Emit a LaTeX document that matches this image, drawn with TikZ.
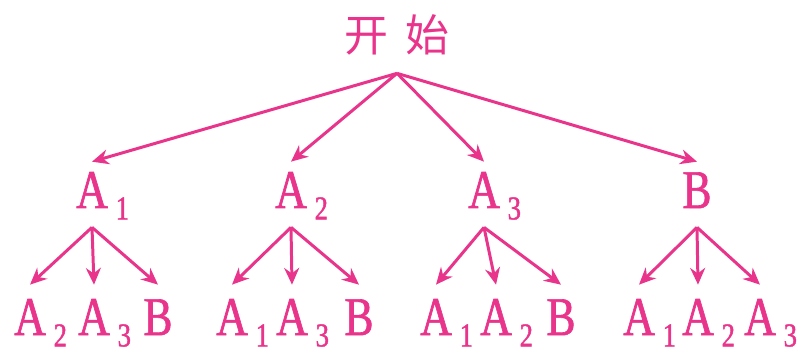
\documentclass[tikz,border=0pt]{standalone}
\usepackage{fontspec}
\setmainfont[FakeStretch=0.8, FakeBold=1.2]{Liberation Serif}
\newfontfamily\cjk{Noto Sans CJK SC}
\usetikzlibrary{arrows.meta}
\definecolor{rose}{RGB}{233,52,140}
\newcommand{\sublab}[2]{#1\rlap{\kern4.5pt\raisebox{-6.5pt}{\fontsize{19}{19}\selectfont #2}}}

\begin{document}
\begin{tikzpicture}[x=0.02cm, y=-0.02cm, >={Stealth[length=9.5pt,width=8.5pt]},
    every node/.style={text=rose, inner sep=0pt, anchor=base, font=\fontsize{31}{31}\selectfont},
    rootlab/.style={font=\cjk\fontsize{25}{25}\selectfont, text depth=0.42cm},
    midlab/.style={text height=0.92cm, text depth=0.38cm},
    leaflab/.style={text height=1.0cm, text depth=0pt},
    link/.style={->, draw=rose, line width=1.7pt}]
    \useasboundingbox (0,0) rectangle (800,347);

    \node[rootlab] (start) at (397,52) {开\hspace{0.36cm}始};

    \node[midlab] (a1) at (92,208) {\sublab{A}{1}};
    \node[midlab] (a2) at (291,208) {\sublab{A}{2}};
    \node[midlab] (a3) at (484,208) {\sublab{A}{3}};
    \node[midlab] (b) at (697,208) {B};

    \node[leaflab] (a1a2) at (30,335) {\sublab{A}{2}};
    \node[leaflab] (a1a3) at (94,335) {\sublab{A}{3}};
    \node[leaflab] (a1b) at (158,335) {B};
    \node[leaflab] (a2a1) at (232,335) {\sublab{A}{1}};
    \node[leaflab] (a2a3) at (292,335) {\sublab{A}{3}};
    \node[leaflab] (a2b) at (359,335) {B};
    \node[leaflab] (a3a1) at (436,335) {\sublab{A}{1}};
    \node[leaflab] (a3a2) at (496,335) {\sublab{A}{2}};
    \node[leaflab] (a3b) at (561,335) {B};
    \node[leaflab] (ba1) at (639,335) {\sublab{A}{1}};
    \node[leaflab] (ba2) at (698,335) {\sublab{A}{2}};
    \node[leaflab] (ba3) at (760,335) {\sublab{A}{3}};

    % first draw
    \draw[link] (start.south) -- (a1.north);
    \draw[link] (start.south) -- (a2.north);
    \draw[link] (start.south) -- (a3.north);
    \draw[link] (start.south) -- (b.north);

    % second draw
    \draw[link] (a1.south) -- (a1a2.north);
    \draw[link] (a1.south) -- (a1a3.north);
    \draw[link] (a1.south) -- (a1b.north);
    \draw[link] (a2.south) -- (a2a1.north);
    \draw[link] (a2.south) -- (a2a3.north);
    \draw[link] (a2.south) -- (a2b.north);
    \draw[link] (a3.south) -- (a3a1.north);
    \draw[link] (a3.south) -- (a3a2.north);
    \draw[link] (a3.south) -- (a3b.north);
    \draw[link] (b.south) -- (ba1.north);
    \draw[link] (b.south) -- (ba2.north);
    \draw[link] (b.south) -- (ba3.north);
\end{tikzpicture}
\end{document}
